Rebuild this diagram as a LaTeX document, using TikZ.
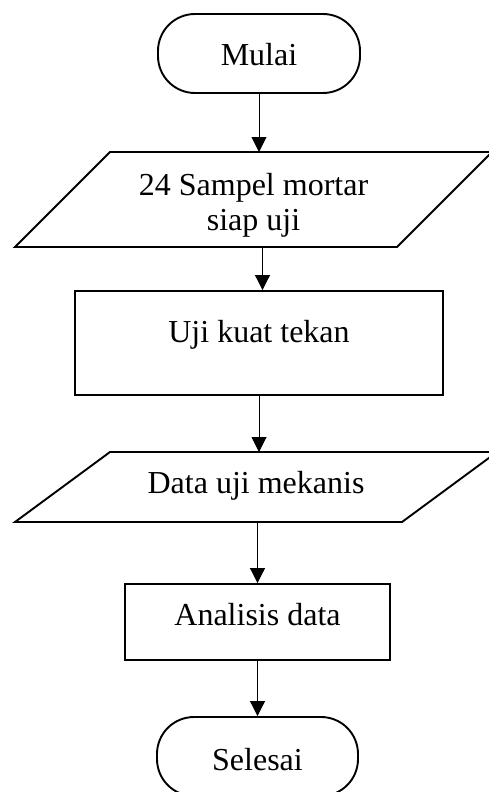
\documentclass[tikz,border=0pt]{standalone}
\usepackage{fontspec}
\setmainfont{Liberation Serif}
\usetikzlibrary{arrows.meta}
\tikzset{
  shp/.style={draw=black, line width=1.9pt},
  term/.style={shp, rectangle, rounded corners=37pt},
  boxnode/.style={shp, rectangle},
  paranode/.style={rectangle, draw=none, outer sep=0pt},
  txtbase/.style={font=\fontsize{32}{35}\selectfont, inner sep=0pt},
  txt/.style={txtbase, text height=22pt, text depth=7pt},
  txtm/.style={txtbase, align=center},
  arr/.style={line width=1pt, -{Triangle[length=15pt,width=15pt]}}
}
\begin{document}
\begin{tikzpicture}[x=1pt,y=-1pt]
\useasboundingbox (0,0) rectangle (488,792);

\node[term, minimum width=202pt, minimum height=79pt,
      label={[txt,yshift=-5pt]center:Mulai}] (mulai) at (259,53.5) {};

\node[paranode, minimum width=382pt, minimum height=95pt,
      label={[txtm,yshift=-5.7pt]center:24 Sampel mortar\\siap uji}] (p1) at (253.5,199.5) {};
\draw[shp] ([xshift=47.5pt]p1.north west) -- ([xshift=47.5pt]p1.north east)
  -- ([xshift=-47.5pt]p1.south east) -- ([xshift=-47.5pt]p1.south west) -- cycle;

\node[boxnode, minimum width=368pt, minimum height=104pt,
      label={[txt,yshift=8.5pt]center:Uji kuat tekan}] (u1) at (259,343) {};

\node[paranode, minimum width=387pt, minimum height=70pt,
      label={[txt,yshift=1.5pt]center:Data uji mekanis}] (p2) at (256,487) {};
\draw[shp] ([xshift=47.5pt]p2.north west) -- ([xshift=47.5pt]p2.north east)
  -- ([xshift=-47.5pt]p2.south east) -- ([xshift=-47.5pt]p2.south west) -- cycle;

\node[boxnode, minimum width=265pt, minimum height=76pt,
      label={[txt,yshift=4.5pt]center:Analisis data}] (a1) at (257.5,622) {};

\node[term, minimum width=201pt, minimum height=79pt,
      label={[txt,yshift=-6pt]center:Selesai}] (s) at (257.5,756.5) {};

\draw[arr] (mulai.south) -- (mulai.south |- p1.north);
\draw[arr] ([xshift=9pt]p1.south) -- ([xshift=9pt]p1.south |- u1.north);
\draw[arr] (u1.south) -- (u1.south |- p2.north);
\draw[arr] (a1.north |- p2.south) -- (a1.north);
\draw[arr] (a1.south) -- (s.north);
\end{tikzpicture}
\end{document}
